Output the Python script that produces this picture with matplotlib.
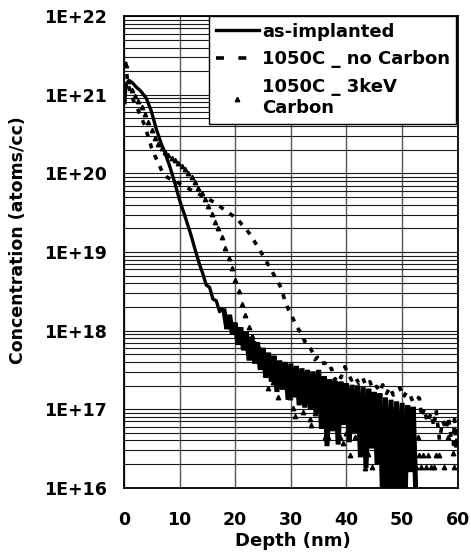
import numpy as np
import matplotlib.pyplot as plt
from matplotlib.lines import Line2D
from matplotlib.ticker import FixedLocator, FuncFormatter, NullFormatter

plt.rcParams['font.family'] = 'DejaVu Sans'
plt.rcParams['font.weight'] = 'bold'

# as-implanted profile (depth nm, log10 of atoms/cc), smooth top part
asimp_x = [0.2, 0.3, 0.5, 1.0, 1.6, 2.2, 3.0, 4.0, 4.9, 5.8, 6.7, 7.3, 8.2, 9.2, 10.0,
           11.0, 12.0, 12.8, 13.6, 14.2, 14.8, 15.4, 16.0, 16.6, 17.2, 17.6]
asimp_log = [20.90, 21.05, 21.15, 21.18, 21.15, 21.10, 21.05, 20.96, 20.80, 20.57, 20.38,
             20.28, 20.10, 19.87, 19.66, 19.45, 19.23, 19.03, 18.84, 18.72, 18.58, 18.55,
             18.40, 18.38, 18.24, 18.28]
# noisy tail of the as-implanted profile, 0.5 nm depth grid
asimp_tail_x = np.arange(18.0, 52.6, 0.5)
asimp_tail_log = [18.25, 18.02, 18.20, 17.95, 18.10, 17.82, 18.04, 17.75, 17.98, 17.62,
                  17.92, 17.58, 17.85, 17.50, 17.78, 17.40, 17.72, 17.35, 17.68, 17.22,
                  17.62, 17.25, 17.60, 17.12, 17.58, 17.15, 17.55, 17.05, 17.52, 17.02,
                  17.50, 17.00, 17.48, 16.95, 17.50, 16.75, 17.42, 16.53, 17.38, 16.72,
                  17.36, 16.55, 17.35, 16.80, 17.33, 16.58, 17.31, 16.70, 17.30, 16.40,
                  17.28, 16.25, 17.26, 16.50, 17.22, 16.30, 17.20, 15.80, 17.15, 15.80,
                  17.12, 15.80, 17.10, 15.80, 17.08, 15.80, 17.05, 16.20, 17.03, 15.80]

# 1050C, no carbon
nocarb_x = [0.3, 0.7, 1.3, 2.0, 2.6, 3.2, 3.8, 4.4, 5.0, 5.6, 6.4, 7.0, 7.8, 8.6, 9.4,
            10.2, 11.0, 11.8, 12.6, 13.4, 14.2, 15.0, 15.8, 16.9, 18.0, 19.0, 19.6, 20.4,
            21.2, 21.9, 22.7, 23.5, 24.3, 25.1, 26.0, 26.8, 27.4, 28.0, 28.5, 28.9, 29.5,
            30.1, 30.6, 31.0, 31.5, 31.9, 32.5, 33.0, 33.5, 33.9, 34.3, 34.8, 35.4, 36.1,
            36.7, 37.3, 37.9, 38.5, 39.0, 39.7, 40.3, 40.9, 41.5, 42.2, 42.9, 43.5, 44.2,
            44.8, 45.4, 46.0, 46.5, 47.2, 47.8, 48.4, 49.0, 49.6, 50.2, 50.8, 51.3, 51.9,
            52.5, 53.1, 53.5, 54.0, 54.5, 55.2, 55.7, 56.1, 56.7, 57.3, 57.9, 58.3, 58.8,
            59.2, 59.4, 59.7, 60.0]
nocarb_log = [21.42, 21.15, 21.00, 20.88, 20.80, 20.70, 20.60, 20.46, 20.32, 20.22,
              20.10, 20.00, 19.95, 19.92, 19.90, 19.86, 19.83, 19.80, 19.77, 19.74,
              19.71, 19.68, 19.65, 19.60, 19.54, 19.49, 19.46, 19.42, 19.35, 19.30,
              19.22, 19.13, 19.04, 18.94, 18.83, 18.73, 18.65, 18.58, 18.48, 18.39,
              18.28, 18.20, 18.12, 18.06, 18.00, 17.97, 17.86, 17.85, 17.78, 17.72,
              17.63, 17.66, 17.58, 17.59, 17.50, 17.52, 17.37, 17.45, 17.40, 17.54,
              17.45, 17.37, 17.42, 17.33, 17.40, 17.30, 17.35, 17.25, 17.29, 17.22,
              17.31, 17.20, 17.28, 17.18, 17.24, 17.27, 17.15, 17.22, 17.20, 17.10,
              17.16, 17.14, 16.90, 17.01, 16.83, 16.95, 16.78, 16.99, 16.61, 16.85,
              16.74, 16.90, 16.65, 16.55, 16.87, 16.49, 16.75]

# 1050C, 3keV carbon
carb_x = [0.3, 0.8, 1.4, 2.0, 2.6, 3.2, 3.8, 4.4, 5.0, 5.6, 6.2, 6.8, 7.4, 8.0, 8.6,
          9.2, 9.8, 10.4, 11.0, 11.6, 12.2, 12.8, 13.4, 14.0, 14.6, 15.2, 15.8, 16.4,
          17.0, 17.6, 18.2, 18.8, 19.4, 20.0, 20.6, 21.2, 21.8, 22.4, 23.0, 23.6, 24.2,
          24.8, 25.4, 25.9, 26.8, 27.7, 28.5, 29.8, 30.4, 30.7, 31.4, 32.2, 33.4, 33.7,
          34.4, 35.5, 36.1, 36.6, 37.2, 38.0, 38.8, 39.4, 40.0, 40.6, 41.6, 42.4, 43.3,
          43.9, 44.5, 45.5, 46.3, 47.0, 47.6, 48.4, 49.0, 49.6, 50.1, 51.0, 51.8, 52.5,
          52.8, 53.1, 53.4, 53.7, 54.3, 54.6, 55.2, 55.7, 56.0, 56.7, 57.6, 58.3, 59.1,
          59.4]
carb_log = [21.38, 21.18, 21.06, 20.98, 20.92, 20.85, 20.76, 20.65, 20.55, 20.45,
            20.38, 20.32, 20.27, 20.23, 20.20, 20.17, 20.13, 20.10, 20.06, 20.01,
            19.96, 19.89, 19.82, 19.75, 19.67, 19.58, 19.48, 19.38, 19.30, 19.19,
            19.05, 18.93, 18.80, 18.65, 18.50, 18.34, 18.20, 18.05, 17.93, 17.84,
            17.78, 17.60, 17.45, 17.27, 17.35, 17.16, 17.30, 17.16, 17.02, 16.91,
            17.10, 16.97, 16.87, 16.80, 16.95, 16.87, 16.65, 16.65, 16.90, 16.80,
            16.65, 16.57, 16.70, 16.42, 16.65, 16.43, 16.25, 16.43, 16.27, 16.65,
            16.42, 16.65, 16.27, 16.42, 16.65, 16.27, 16.42, 16.65, 16.42, 16.27,
            16.65, 16.42, 16.27, 16.42, 16.27, 16.42, 16.27, 16.27, 16.42, 16.42,
            16.27, 16.65, 16.44, 16.27]

labels = ['as-implanted', '1050C _ no Carbon', '1050C _ 3keV\nCarbon']
decades = [1e16, 1e17, 1e18, 1e19, 1e20, 1e21, 1e22]

fig = plt.figure(figsize=(4.71, 5.6), dpi=100)
ax = fig.add_axes([0.263, 0.129, 0.709, 0.842])

ax.plot(asimp_x + [asimp_tail_x[0]], 10 ** np.array(asimp_log + asimp_tail_log[:1]),
        color='black', lw=2.4, zorder=3)
# the noisy tail is so dense it prints as a solid band
ax.plot(asimp_tail_x, 10 ** np.array(asimp_tail_log), color='black', lw=3.6,
        solid_joinstyle='miter', zorder=3)
ax.plot(nocarb_x, 10 ** np.array(nocarb_log), color='black', lw=2.6,
        linestyle=(0, (1.4, 2.0)), zorder=4)
ax.plot(carb_x, 10 ** np.array(carb_log), color='black', linestyle='none',
        marker='^', ms=3.2, zorder=5)

ax.set_yscale('log')
ax.set_xlim(0, 60)
ax.set_ylim(1e16, 1e22)
ax.set_xticks(range(0, 61, 10))
ax.yaxis.set_major_locator(FixedLocator(decades))
ax.yaxis.set_major_formatter(FuncFormatter(lambda v, p: '1E+%d' % round(np.log10(v))))
minor = [m * d for d in decades[:-1] for m in range(2, 10)]
ax.yaxis.set_minor_locator(FixedLocator(minor))
ax.yaxis.set_minor_formatter(NullFormatter())

ax.grid(which='both', axis='y', color='#1a1a1a', lw=0.8)
ax.grid(which='major', axis='x', color='#555555', lw=1.0)
ax.set_axisbelow(True)

ax.tick_params(axis='x', length=0, pad=17, labelsize=12.5)
ax.tick_params(axis='y', which='both', length=0, pad=12, labelsize=12.5)
for s in ax.spines.values():
    s.set_linewidth(1.3)

ax.set_xlabel('Depth (nm)', fontsize=13, fontweight='bold')
ax.set_ylabel('Concentration (atoms/cc)', fontsize=12.5, fontweight='bold')
ax.xaxis.set_label_coords(0.507, -0.093)
ax.yaxis.set_label_coords(-0.29, 0.525)

handles = [Line2D([], [], color='black', lw=2.4),
           Line2D([], [], color='black', lw=2.6, linestyle=(0, (2.2, 4))),
           Line2D([], [], color='black', linestyle='none', marker='^', ms=3.2)]
leg = ax.legend(handles, labels, loc='upper right', bbox_to_anchor=(0.995, 1.0),
                borderaxespad=0, fancybox=False, framealpha=1, edgecolor='black',
                fontsize=13, handlelength=2.4, handletextpad=0.15,
                labelspacing=0.55, borderpad=0.35)
leg.get_frame().set_linewidth(1.0)
leg.set_zorder(10)

fig.savefig('out.png', dpi=100)
